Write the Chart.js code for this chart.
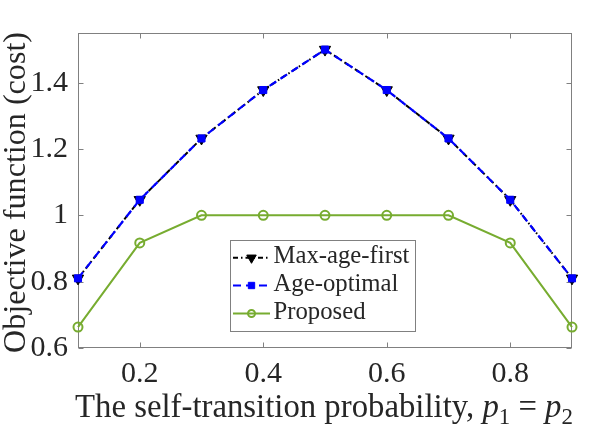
<!DOCTYPE html>
<html><head><meta charset="utf-8">
<script src="https://cdn.jsdelivr.net/npm/chart.js@4.4.1/dist/chart.umd.min.js"></script>
<style>html,body{margin:0;padding:0;background:#fff}#wrap{width:600px;height:441px}</style>
</head><body><div id="wrap"><canvas id="c" width="600" height="441"></canvas></div>
<script>
const probabilities = [0.1, 0.2, 0.3, 0.4, 0.5, 0.6, 0.7, 0.8, 0.9];
const maxAgeFirst = [0.81, 1.047, 1.232, 1.378, 1.5, 1.378, 1.232, 1.047, 0.81];
const ageOptimal = [0.81, 1.047, 1.232, 1.378, 1.5, 1.378, 1.232, 1.047, 0.81];
const proposed = [0.663, 0.917, 1.0, 1.0, 1.0, 1.0, 1.0, 0.917, 0.663];
const xTicks = [0.2, 0.4, 0.6, 0.8];
const yTicks = [0.6, 0.8, 1.0, 1.2, 1.4];
const seriesNames = ['Max-age-first', 'Age-optimal', 'Proposed'];
const yTitle = 'Objective function (cost)';
const xTitleMain = 'The self-transition probability, ';

const FONT = '"Liberation Serif", "DejaVu Serif", serif';
const TEXT = '#262626';
const AXIS = '#808080';

function pts(vals){ return probabilities.map((p,i)=>({x:p, y:vals[i]})); }

const frameAndTicks = {
  id:'frameAndTicks',
  beforeDatasetsDraw(chart){
    const {ctx, chartArea:a, scales:{x,y}} = chart;
    ctx.save();
    ctx.strokeStyle = AXIS; ctx.lineWidth = 1;
    const L = Math.round(a.left)+0.5, R = Math.round(a.right)-0.5, T = Math.round(a.top)+0.5, B = Math.round(a.bottom)-0.5;
    ctx.strokeRect(L, T, R-L, B-T);
    ctx.beginPath();
    xTicks.forEach(v=>{
      const px = Math.round(x.getPixelForValue(v))+0.5;
      ctx.moveTo(px,B); ctx.lineTo(px,B-5);
      ctx.moveTo(px,T); ctx.lineTo(px,T+5);
    });
    yTicks.forEach(v=>{
      const py = Math.round(y.getPixelForValue(v))+0.5;
      ctx.moveTo(L,py); ctx.lineTo(L+5,py);
      ctx.moveTo(R,py); ctx.lineTo(R-5,py);
    });
    ctx.stroke();
    ctx.restore();
  }
};

const titles = {
  id:'titles',
  afterDraw(chart){
    const ctx = chart.ctx;
    ctx.save();
    ctx.fillStyle = TEXT;
    // y title
    ctx.font = `28px ${FONT}`;
    let w = ctx.measureText(yTitle).width;
    const fy = 28 * 321 / w;
    ctx.font = `${fy}px ${FONT}`;
    ctx.translate(25, 192.5);
    ctx.rotate(-Math.PI/2);
    ctx.textAlign = 'center'; ctx.textBaseline = 'alphabetic';
    ctx.fillText(yTitle, 0, 0);
    ctx.restore();

    // x title with math
    ctx.save();
    ctx.fillStyle = TEXT;
    ctx.textBaseline = 'alphabetic'; ctx.textAlign = 'left';
    const runs = [
      {t:xTitleMain, it:false, sub:false},
      {t:'p', it:true, sub:false},
      {t:'1', it:false, sub:true},
      {t:' = ', it:false, sub:false},
      {t:'p', it:true, sub:false},
      {t:'2', it:false, sub:true}
    ];
    const fontFor = (r,f)=> `${r.it?'italic ':''}${r.sub? f*0.7 : f}px ${FONT}`;
    const measure = f => runs.reduce((s,r)=>{ ctx.font = fontFor(r,f); return s + ctx.measureText(r.t).width; },0);
    const fx = 28 * 498 / measure(28);
    const total = measure(fx);
    let cx = 324 - total/2;
    const base = 417;
    runs.forEach(r=>{
      ctx.font = fontFor(r,fx);
      ctx.fillText(r.t, cx, base + (r.sub ? fx*0.2 : 0));
      cx += ctx.measureText(r.t).width;
    });
    ctx.restore();

    // legend
    ctx.save();
    const bx = 230.5, by = 240.5, bw = 185, bh = 91;
    ctx.fillStyle = '#fff'; ctx.fillRect(bx,by,bw,bh);
    ctx.strokeStyle = AXIS; ctx.lineWidth = 1; ctx.strokeRect(bx,by,bw,bh);
    ctx.font = `22px ${FONT}`;
    const fl = 22 * 136 / ctx.measureText(seriesNames[0]).width;
    ctx.font = `${fl}px ${FONT}`;
    const baselines = [263.3, 291, 319];
    const markR = [5.5, 4.5, 3.5];
    chart.data.datasets.forEach((ds,i)=>{
      const cyL = baselines[i] - 5.5;
      ctx.save();
      ctx.strokeStyle = ds.borderColor; ctx.lineWidth = ds.borderWidth;
      ctx.setLineDash(ds.borderDash || []);
      ctx.beginPath(); ctx.moveTo(233, cyL); ctx.lineTo(270, cyL); ctx.stroke();
      ctx.setLineDash([]);
      ctx.fillStyle = ds.pointBackgroundColor; ctx.strokeStyle = ds.pointBorderColor; ctx.lineWidth = ds.pointBorderWidth;
      Chart.helpers.drawPoint(ctx, {pointStyle: ds.pointStyle, rotation: ds.pointRotation||0, radius: markR[i], borderWidth: ds.pointBorderWidth}, 251.5, cyL);
      ctx.restore();
      ctx.fillStyle = TEXT; ctx.textBaseline = 'alphabetic'; ctx.textAlign = 'left';
      ctx.fillText(ds.label, 273.5, baselines[i]);
    });
    ctx.restore();
  }
};

new Chart(document.getElementById('c'), {
  type:'line',
  data:{
    datasets:[
      {label:seriesNames[0], data:pts(maxAgeFirst), borderColor:'#000', borderWidth:2, borderDash:[5,3,1.5,3],
       pointStyle:'triangle', pointRotation:180, pointRadius:6.5, pointBackgroundColor:'#000', pointBorderColor:'#000', pointBorderWidth:1, order:3, clip:false},
      {label:seriesNames[1], data:pts(ageOptimal), borderColor:'#0000ff', borderWidth:2.2, borderDash:[8,5],
       pointStyle:'rect', pointRadius:5, pointBackgroundColor:'#0000ff', pointBorderColor:'#0000ff', pointBorderWidth:1, order:2, clip:false},
      {label:seriesNames[2], data:pts(proposed), borderColor:'#77AC30', borderWidth:2, borderDash:[],
       pointStyle:'circle', pointRadius:4.5, pointBackgroundColor:'rgba(0,0,0,0)', pointBorderColor:'#77AC30', pointBorderWidth:2, order:1, clip:false}
    ]
  },
  options:{
    responsive:false, animation:false, devicePixelRatio:1,
    layout:{padding:{left:0,right:28,top:33,bottom:0}},
    plugins:{legend:{display:false}, tooltip:{enabled:false}},
    elements:{line:{tension:0}},
    scales:{
      x:{type:'linear', min:0.1, max:0.9,
        afterBuildTicks(s){ s.ticks = xTicks.map(v=>({value:v})); },
        afterFit(s){ s.height = 93; },
        grid:{display:false, drawTicks:false}, border:{display:false},
        ticks:{font:{family:FONT, size:30}, color:TEXT, padding:8, maxRotation:0, autoSkip:false,
          callback:v=>String(Math.round(v*10)/10)}},
      y:{type:'linear', min:0.6, max:1.55,
        afterBuildTicks(s){ s.ticks = yTicks.map(v=>({value:v})); },
        afterFit(s){ s.width = 78; },
        grid:{display:false, drawTicks:false}, border:{display:false},
        ticks:{font:{family:FONT, size:30}, color:TEXT, padding:10, autoSkip:false,
          callback:v=>String(Math.round(v*10)/10)}}
    }
  },
  plugins:[frameAndTicks, titles]
});
</script></body></html>
